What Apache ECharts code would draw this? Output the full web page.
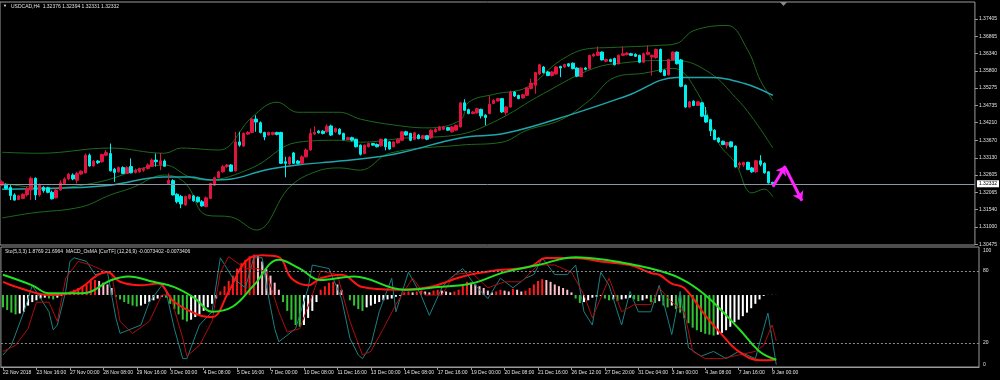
<!DOCTYPE html>
<html><head><meta charset="utf-8">
<script src="https://cdn.jsdelivr.net/npm/echarts@6/dist/echarts.min.js"></script>
<style>html,body{margin:0;padding:0;background:#000}#c{width:1000px;height:380px}</style>
</head><body><div id="c"></div>
<script>
const symbolTitle = 'USDCAD,H4  1.32376 1.32394 1.32331 1.32332';
const subTitle = 'Sto(5,3,3) 1.8769 21.6964  MACD_OsMA [CurTF] (12,26,9) -0.0073402 -0.0073406';
const timeLabels = ['22 Nov 2018','23 Nov 16:00','27 Nov 00:00','28 Nov 08:00','29 Nov 16:00','3 Dec 00:00','4 Dec 08:00','5 Dec 16:00','7 Dec 00:00','10 Dec 08:00','11 Dec 16:00','13 Dec 00:00','14 Dec 08:00','17 Dec 16:00','19 Dec 00:00','20 Dec 08:00','21 Dec 16:00','26 Dec 12:00','27 Dec 20:00','31 Dec 04:00','3 Jan 00:00','4 Jan 08:00','7 Jan 16:00','9 Jan 00:00'];
const priceTicks = [1.30475,1.31000,1.31540,1.32065,1.32605,1.33130,1.33670,1.34210,1.34735,1.35275,1.35800,1.36340,1.36865,1.37405];
const stochTicks = [0,20,80,100];
const stochLevels = [20,80];
const lastPrice = 1.32332;
// [open, close, low, high]
const candles = [
[1.3229,1.3239,1.3226,1.3244],[1.3229,1.3219,1.3216,1.3234],[1.3222,1.3197,1.3183,1.3229],[1.3199,1.3183,1.3181,1.3204],[1.3185,1.3196,1.3183,1.3199],
[1.3188,1.3201,1.3186,1.3204],[1.3199,1.3219,1.3194,1.3224],[1.3214,1.3250,1.3183,1.3255],[1.3250,1.3199,1.3183,1.3253],[1.3199,1.3229,1.3194,1.3234],
[1.3222,1.3212,1.3206,1.3226],[1.3221,1.3207,1.3204,1.3224],[1.3207,1.3187,1.3185,1.3212],[1.3190,1.3214,1.3188,1.3219],[1.3214,1.3236,1.3212,1.3244],
[1.3234,1.3248,1.3232,1.3253],[1.3248,1.3263,1.3244,1.3267],[1.3260,1.3248,1.3244,1.3265],[1.3244,1.3265,1.3234,1.3270],[1.3263,1.3272,1.3260,1.3275],
[1.3267,1.3321,1.3265,1.3326],[1.3321,1.3288,1.3286,1.3326],[1.3288,1.3303,1.3286,1.3306],[1.3303,1.3298,1.3294,1.3306],[1.3301,1.3323,1.3298,1.3326],
[1.3321,1.3329,1.3318,1.3337],[1.3326,1.3273,1.3271,1.3357],[1.3278,1.3268,1.3239,1.3282],[1.3270,1.3283,1.3267,1.3287],[1.3283,1.3265,1.3263,1.3287],
[1.3265,1.3283,1.3263,1.3287],[1.3286,1.3267,1.3265,1.3311],[1.3268,1.3275,1.3265,1.3280],[1.3270,1.3280,1.3267,1.3283],[1.3275,1.3280,1.3270,1.3283],
[1.3280,1.3291,1.3277,1.3296],[1.3287,1.3306,1.3286,1.3311],[1.3306,1.3301,1.3286,1.3326],[1.3291,1.3304,1.3275,1.3328],[1.3303,1.3287,1.3286,1.3308],
[1.3234,1.3244,1.3232,1.3265],[1.3243,1.3199,1.3197,1.3247],[1.3201,1.3178,1.3173,1.3204],[1.3194,1.3171,1.3158,1.3199],[1.3168,1.3194,1.3165,1.3197],
[1.3188,1.3199,1.3185,1.3202],[1.3196,1.3181,1.3178,1.3199],[1.3192,1.3178,1.3175,1.3194],[1.3178,1.3165,1.3163,1.3183],[1.3163,1.3190,1.3161,1.3194],
[1.3188,1.3234,1.3186,1.3236],[1.3229,1.3252,1.3226,1.3255],[1.3252,1.3270,1.3250,1.3273],[1.3270,1.3286,1.3267,1.3291],[1.3286,1.3291,1.3282,1.3294],
[1.3291,1.3272,1.3270,1.3294],[1.3273,1.3362,1.3271,1.3393],[1.3362,1.3352,1.3347,1.3393],[1.3349,1.3388,1.3347,1.3391],[1.3386,1.3391,1.3383,1.3395],
[1.3391,1.3432,1.3388,1.3434],[1.3432,1.3423,1.3393,1.3444],[1.3421,1.3391,1.3388,1.3425],[1.3391,1.3377,1.3367,1.3393],[1.3383,1.3391,1.3382,1.3393],
[1.3385,1.3391,1.3382,1.3393],[1.3391,1.3385,1.3382,1.3393],[1.3391,1.3296,1.3294,1.3393],[1.3301,1.3296,1.3253,1.3316],[1.3294,1.3314,1.3291,1.3318],
[1.3328,1.3296,1.3294,1.3331],[1.3303,1.3296,1.3293,1.3306],[1.3296,1.3316,1.3294,1.3321],[1.3316,1.3337,1.3314,1.3342],[1.3337,1.3388,1.3335,1.3403],
[1.3386,1.3391,1.3383,1.3410],[1.3395,1.3390,1.3388,1.3398],[1.3395,1.3388,1.3385,1.3398],[1.3393,1.3410,1.3390,1.3416],[1.3411,1.3383,1.3380,1.3415],
[1.3393,1.3403,1.3390,1.3406],[1.3401,1.3386,1.3383,1.3404],[1.3388,1.3369,1.3367,1.3390],[1.3369,1.3375,1.3367,1.3378],[1.3375,1.3367,1.3364,1.3378],
[1.3370,1.3347,1.3345,1.3372],[1.3352,1.3324,1.3320,1.3354],[1.3326,1.3352,1.3324,1.3354],[1.3347,1.3357,1.3345,1.3359],[1.3357,1.3352,1.3350,1.3359],
[1.3354,1.3347,1.3345,1.3357],[1.3350,1.3370,1.3347,1.3372],[1.3371,1.3347,1.3336,1.3372],[1.3362,1.3340,1.3338,1.3364],[1.3347,1.3362,1.3345,1.3364],
[1.3359,1.3370,1.3357,1.3372],[1.3367,1.3393,1.3364,1.3395],[1.3393,1.3383,1.3381,1.3396],[1.3388,1.3367,1.3364,1.3390],[1.3370,1.3390,1.3367,1.3393],
[1.3383,1.3372,1.3370,1.3386],[1.3372,1.3381,1.3370,1.3383],[1.3381,1.3370,1.3367,1.3383],[1.3374,1.3398,1.3372,1.3401],[1.3393,1.3401,1.3390,1.3404],
[1.3398,1.3408,1.3396,1.3411],[1.3401,1.3408,1.3398,1.3411],[1.3406,1.3398,1.3396,1.3408],[1.3393,1.3408,1.3390,1.3411],[1.3398,1.3413,1.3396,1.3415],
[1.3408,1.3482,1.3406,1.3485],[1.3482,1.3459,1.3457,1.3493],[1.3461,1.3449,1.3447,1.3464],[1.3449,1.3454,1.3447,1.3457],[1.3451,1.3464,1.3449,1.3467],
[1.3462,1.3442,1.3434,1.3464],[1.3444,1.3437,1.3413,1.3447],[1.3449,1.3478,1.3447,1.3503],[1.3480,1.3490,1.3478,1.3493],[1.3488,1.3495,1.3485,1.3497],
[1.3495,1.3454,1.3451,1.3497],[1.3452,1.3469,1.3444,1.3472],[1.3469,1.3515,1.3467,1.3520],[1.3515,1.3503,1.3500,1.3518],[1.3505,1.3495,1.3493,1.3507],
[1.3497,1.3507,1.3495,1.3510],[1.3505,1.3528,1.3503,1.3530],[1.3526,1.3543,1.3523,1.3556],[1.3536,1.3575,1.3510,1.3577],[1.3571,1.3599,1.3568,1.3602],
[1.3592,1.3575,1.3572,1.3595],[1.3577,1.3566,1.3564,1.3580],[1.3566,1.3577,1.3563,1.3580],[1.3571,1.3592,1.3568,1.3595],[1.3594,1.3589,1.3561,1.3596],
[1.3592,1.3600,1.3589,1.3602],[1.3602,1.3595,1.3592,1.3604],[1.3604,1.3587,1.3585,1.3606],[1.3589,1.3564,1.3561,1.3591],[1.3563,1.3589,1.3561,1.3591],
[1.3589,1.3585,1.3582,1.3592],[1.3587,1.3628,1.3585,1.3630],[1.3626,1.3631,1.3623,1.3635],[1.3628,1.3638,1.3626,1.3655],[1.3638,1.3614,1.3612,1.3640],
[1.3610,1.3615,1.3607,1.3618],[1.3615,1.3609,1.3607,1.3618],[1.3618,1.3599,1.3597,1.3621],[1.3602,1.3628,1.3600,1.3631],[1.3628,1.3633,1.3626,1.3655],
[1.3630,1.3635,1.3628,1.3638],[1.3633,1.3628,1.3626,1.3636],[1.3631,1.3625,1.3623,1.3634],[1.3628,1.3607,1.3604,1.3630],[1.3607,1.3633,1.3604,1.3636],
[1.3631,1.3637,1.3628,1.3658],[1.3623,1.3628,1.3566,1.3631],[1.3621,1.3646,1.3618,1.3649],[1.3646,1.3577,1.3575,1.3649],[1.3582,1.3566,1.3564,1.3585],
[1.3568,1.3615,1.3566,1.3618],[1.3614,1.3638,1.3612,1.3640],[1.3638,1.3602,1.3600,1.3640],[1.3614,1.3533,1.3530,1.3617],[1.3536,1.3469,1.3467,1.3538],
[1.3469,1.3485,1.3467,1.3488],[1.3487,1.3474,1.3472,1.3490],[1.3474,1.3485,1.3472,1.3488],[1.3482,1.3441,1.3439,1.3485],[1.3444,1.3423,1.3420,1.3469],
[1.3430,1.3396,1.3380,1.3433],[1.3398,1.3369,1.3367,1.3401],[1.3374,1.3362,1.3359,1.3376],[1.3364,1.3354,1.3352,1.3366],[1.3352,1.3360,1.3342,1.3362],
[1.3362,1.3347,1.3345,1.3364],[1.3349,1.3285,1.3283,1.3351],[1.3291,1.3296,1.3280,1.3301],[1.3291,1.3299,1.3285,1.3301],[1.3299,1.3277,1.3275,1.3301],
[1.3282,1.3270,1.3267,1.3285],[1.3270,1.3304,1.3267,1.3306],[1.3304,1.3293,1.3287,1.3321],[1.3296,1.3267,1.3264,1.3299],[1.3270,1.3236,1.3234,1.3272],
[1.32376,1.32332,1.32331,1.32394]
];
// [bar index, value]
const bbUpper = [[0,1.3330],[9,1.3327],[26,1.3343],[39,1.3327],[43,1.3343],[52,1.3337],[60,1.3438],[66,1.3484],[71,1.3453],[81,1.3453],[86,1.3432],[94,1.3414],[102,1.3405],[110,1.3429],[112,1.3484],[118,1.3508],[126,1.3530],[134,1.3612],[141,1.3649],[146,1.3652],[158,1.3659],[162,1.3665],[166,1.3704],[174,1.3720],[179,1.3643],[182,1.3551],[185,1.3490]];
const bbMiddle = [[0,1.3235],[11,1.3220],[23,1.3238],[39,1.3291],[45,1.3254],[49,1.3245],[60,1.3282],[71,1.3361],[81,1.3367],[86,1.3361],[97,1.3374],[109,1.3383],[118,1.3423],[130,1.3511],[142,1.3588],[150,1.3606],[158,1.3612],[162,1.3612],[170,1.3573],[176,1.3499],[180,1.3438],[185,1.3343]];
const bbLower = [[0,1.3128],[7,1.3143],[19,1.3162],[26,1.3199],[31,1.3220],[39,1.3260],[44,1.3235],[49,1.3137],[55,1.3131],[61,1.3091],[69,1.3223],[75,1.3269],[81,1.3282],[86,1.3275],[93,1.3327],[110,1.3352],[120,1.3361],[126,1.3398],[134,1.3429],[141,1.3490],[147,1.3560],[154,1.3573],[161,1.3588],[167,1.3511],[172,1.3358],[176,1.3297],[180,1.3205],[183,1.3217],[185,1.3193]];
const maLine = [[0,1.3216],[15,1.3220],[26,1.3229],[39,1.3254],[45,1.3254],[50,1.3245],[55,1.3248],[63,1.3275],[71,1.3291],[81,1.3303],[94,1.3324],[110,1.3374],[121,1.3389],[138,1.3452],[150,1.3504],[162,1.3560],[170,1.3560],[178,1.3542],[185,1.3505]];
const stochK = [[0,10],[2,18],[5,46],[7,68],[9,57],[11,46],[12,31],[13,35],[15,63],[16,88],[17,91],[20,88],[22,77],[25,79],[27,41],[28,28],[33,35],[35,54],[38,68],[39,63],[41,32],[43,7],[44,7],[47,35],[50,46],[52,91],[55,74],[58,66],[60,91],[62,91],[63,68],[65,32],[66,21],[70,32],[73,66],[74,85],[78,82],[81,57],[83,24],[85,10],[86,7],[88,18],[90,46],[93,74],[94,46],[97,79],[100,60],[102,43],[105,66],[107,74],[110,82],[113,68],[116,57],[119,74],[122,66],[125,74],[127,77],[129,91],[132,77],[135,77],[137,85],[139,46],[141,35],[143,79],[145,68],[148,35],[150,63],[152,46],[155,46],[157,68],[160,27],[162,63],[164,16],[167,9],[170,13],[173,7],[176,13],[180,7],[183,45],[185,1.9]];
const stochD = [[0,13],[3,18],[6,32],[8,54],[11,54],[13,38],[15,74],[18,88],[21,85],[23,82],[26,77],[28,38],[31,28],[35,38],[38,60],[40,60],[43,24],[44,9],[47,18],[50,38],[52,79],[54,92],[58,82],[61,82],[63,79],[66,46],[68,29],[71,32],[74,60],[76,80],[80,77],[83,38],[86,10],[88,13],[91,32],[94,52],[98,74],[101,60],[105,60],[108,77],[112,79],[116,66],[120,71],[124,71],[128,85],[132,85],[136,79],[139,60],[141,41],[145,74],[148,46],[151,52],[155,52],[157,66],[160,54],[163,46],[165,13],[168,7],[172,7],[176,10],[180,13],[182,18],[184,35],[185,21.7]];
// MACD lines and OsMA histogram in units of 0.0001
const macdMain = [[0,15],[4,8],[11,0],[17,4],[25,26],[28,15],[33,11],[37,13],[41,-8],[47,-23],[50,-25],[54,4],[58,38],[62,45],[66,43],[69,19],[73,11],[76,19],[81,23],[86,9],[94,6],[102,9],[110,21],[118,28],[126,32],[130,42],[137,42],[143,38],[150,34],[155,25],[157,23],[160,13],[163,8],[168,-23],[172,-45],[176,-64],[181,-74],[185,-73.4]];
const macdSignal = [[0,23],[7,11],[11,2],[19,2],[26,17],[30,21],[36,15],[41,9],[46,-4],[50,-19],[55,-13],[60,11],[66,40],[71,30],[76,17],[84,21],[96,6],[104,9],[112,13],[120,26],[128,34],[137,43],[144,40],[155,30],[162,19],[168,0],[176,-38],[181,-64],[185,-73.4]];
const osma = [-14,-17,-20,-22,-21,-19,-12,-8,-6,-4,-3,-4,-5,-3,-1,2,4,6,8,10,12,16,17,16,14,12,8,-2,-5,-8,-10,-12,-13,-12,-10,-8,-6,-4,-2,-3,-10,-16,-22,-28,-30,-28,-25,-22,-18,-14,-10,-4,4,10,16,22,30,36,40,44,46,44,38,30,22,14,6,-8,-18,-28,-34,-36,-34,-26,-18,-8,6,10,14,15,
12,6,0,-6,-12,-16,-18,-14,-12,-10,-8,-6,-5,-4,-2,-1,3,4,3,4,5,4,3,5,6,5,4,3,4,6,12,15,14,12,10,8,5,3,4,6,5,4,7,6,4,5,8,12,16,18,17,15,12,10,8,6,3,-4,-9,-8,-6,-3,-2,-1,-4,-6,-5,-7,-5,-4,-3,-5,-7,
-6,-4,-8,-9,-7,-12,-14,-12,-16,-20,-26,-32,-37,-40,-42,-44,-45,-46,-45,-43,-40,-36,-31,-28,-24,-20,-15,-10,-5,-1,0.3,0.2,0.1];
// forecast arrows: [[fromBar, fromPrice],[toBar, toPrice]]
const arrows = [[[185,1.3224],[188,1.3288]],[[188,1.3282],[192,1.3181]]];

const totalSlots = 234;
const cats = Array.from({length: totalSlots}, (_, i) => String(i));
const labelStep = 8;
const txt = '#e2e2e2';
const font = 'Liberation Sans';
const tStyle = {color: txt, fontSize: 5, fontWeight: 'normal', fontFamily: font};

const chart = echarts.init(document.getElementById('c'));
chart.setOption({
  backgroundColor: '#000',
  animation: false,
  title: [
    {text: '▼', left: 3, top: 4, padding: 0, textStyle: Object.assign({}, tStyle, {fontSize: 4, color: '#f0f0f0'})},
    {text: symbolTitle, left: 11, top: 4, padding: 0, textStyle: tStyle},
    {text: subTitle, left: 5, top: 249, padding: 0, textStyle: tStyle}
  ],
  graphic: [
    {type: 'polygon', shape: {points: [[780, 2], [787, 2], [783.5, 6]]}, style: {fill: '#8a8a8a'}, silent: true}
  ],
  grid: [
    {left: 0, right: 21, top: 2, height: 243, show: true, borderColor: '#9a9a9a', borderWidth: 1},
    {left: 0, right: 21, top: 247, height: 120, show: true, borderColor: '#9a9a9a', borderWidth: 1}
  ],
  xAxis: [
    {type: 'category', gridIndex: 0, data: cats, boundaryGap: true, axisLine: {show: false}, axisTick: {show: false}, axisLabel: {show: false}, splitLine: {show: false}},
    {type: 'category', gridIndex: 1, data: cats, boundaryGap: true,
     axisLine: {lineStyle: {color: '#9a9a9a'}},
     axisTick: {show: true, alignWithLabel: true, length: 3, interval: (i) => i % labelStep === 0 && i / labelStep < timeLabels.length, lineStyle: {color: '#9a9a9a'}},
     axisLabel: {interval: (i) => i % labelStep === 0 && i / labelStep < timeLabels.length, formatter: (v, i) => timeLabels[i / labelStep] || '', align: 'left', color: txt, fontSize: 5, fontFamily: font, margin: 3},
     splitLine: {show: false}}
  ],
  yAxis: [
    {type: 'value', gridIndex: 0, position: 'right', min: 1.3045, max: 1.3792, scale: true,
     axisLine: {show: false}, splitLine: {show: false},
     axisTick: {show: true, length: 3, customValues: priceTicks, lineStyle: {color: '#9a9a9a'}},
     axisLabel: {customValues: priceTicks, formatter: (v) => v.toFixed(5), color: txt, fontSize: 5, fontFamily: font, margin: 4}},
    {type: 'value', gridIndex: 1, position: 'right', min: 0, max: 100,
     axisLine: {show: false}, splitLine: {show: false},
     axisTick: {show: false},
     axisLabel: {customValues: stochTicks, color: txt, fontSize: 5, fontFamily: font, margin: 4,
       formatter: (v) => v === 100 ? '{t|100}' : (v === 0 ? '{b|0}' : String(v)),
       rich: {t: {padding: [8, 0, 0, 0], color: txt, fontSize: 5, fontFamily: font}, b: {padding: [0, 0, 4, 0], color: txt, fontSize: 5, fontFamily: font}}}},
    {type: 'value', gridIndex: 1, min: -81.7, max: 54.5, show: false, splitLine: {show: false}}
  ],
  series: [
    {type: 'line', name: 'bbUpper', xAxisIndex: 0, yAxisIndex: 0, data: bbUpper, smooth: 0.4, symbol: 'none', lineStyle: {color: '#1d6a1d', width: 1}, z: 2},
    {type: 'line', name: 'bbMiddle', xAxisIndex: 0, yAxisIndex: 0, data: bbMiddle, smooth: 0.4, symbol: 'none', lineStyle: {color: '#1d6a1d', width: 1}, z: 2},
    {type: 'line', name: 'bbLower', xAxisIndex: 0, yAxisIndex: 0, data: bbLower, smooth: 0.4, symbol: 'none', lineStyle: {color: '#1d6a1d', width: 1}, z: 2},
    {type: 'line', name: 'ma', xAxisIndex: 0, yAxisIndex: 0, data: maLine, smooth: 0.4, symbol: 'none', lineStyle: {color: '#1fa6ad', width: 1.5}, z: 2,
     markLine: {silent: true, symbol: 'none', animation: false, precision: 5,
       lineStyle: {color: '#8a96a3', width: 1, type: 'solid'},
       label: {show: true, position: 'end', formatter: () => lastPrice.toFixed(5), backgroundColor: '#ffffff', color: '#000', fontSize: 5, fontFamily: font, padding: [1, 2, 1, 2], distance: 2},
       data: [{yAxis: lastPrice}]}},
    {type: 'candlestick', xAxisIndex: 0, yAxisIndex: 0, data: candles, barWidth: 3, z: 3,
     itemStyle: {color: '#e0143f', color0: '#00f0f0', borderColor: '#e0143f', borderColor0: '#00f0f0', borderColorDoji: '#00f0f0', borderWidth: 1}},
    {type: 'lines', coordinateSystem: 'cartesian2d', xAxisIndex: 0, yAxisIndex: 0, z: 5,
     symbol: ['none', 'arrow'], symbolSize: 9,
     lineStyle: {color: '#ff22ff', width: 3, opacity: 1, curveness: 0},
     data: arrows.map(a => ({coords: a}))},
    {type: 'bar', name: 'osma', xAxisIndex: 1, yAxisIndex: 2, data: osma, barWidth: 2, z: 2,
     itemStyle: {color: (p) => {
       const v = osma[p.dataIndex]; const prev = p.dataIndex > 0 ? osma[p.dataIndex - 1] : v;
       if (v >= 0) return v >= prev ? '#ff1a1a' : '#ffc0cb';
       return v <= prev ? '#33c233' : '#ffffff';
     }}},
    {type: 'line', name: 'stochK', xAxisIndex: 1, yAxisIndex: 1, data: stochK, symbol: 'none', lineStyle: {color: '#1c7f80', width: 1}, z: 3,
     markLine: {silent: true, symbol: 'none', label: {show: false}, lineStyle: {color: '#8c8c8c', width: 1, type: [2, 2]}, data: stochLevels.map(v => ({yAxis: v}))}},
    {type: 'line', name: 'stochD', xAxisIndex: 1, yAxisIndex: 1, data: stochD, symbol: 'none', lineStyle: {color: '#b00c0c', width: 1}, z: 3},
    {type: 'line', name: 'macdMain', xAxisIndex: 1, yAxisIndex: 2, data: macdMain, smooth: 0.4, symbol: 'none', lineStyle: {color: '#ff1414', width: 2}, z: 4},
    {type: 'line', name: 'macdSignal', xAxisIndex: 1, yAxisIndex: 2, data: macdSignal, smooth: 0.4, symbol: 'none', lineStyle: {color: '#22e022', width: 2}, z: 4}
  ]
});
</script></body></html>
